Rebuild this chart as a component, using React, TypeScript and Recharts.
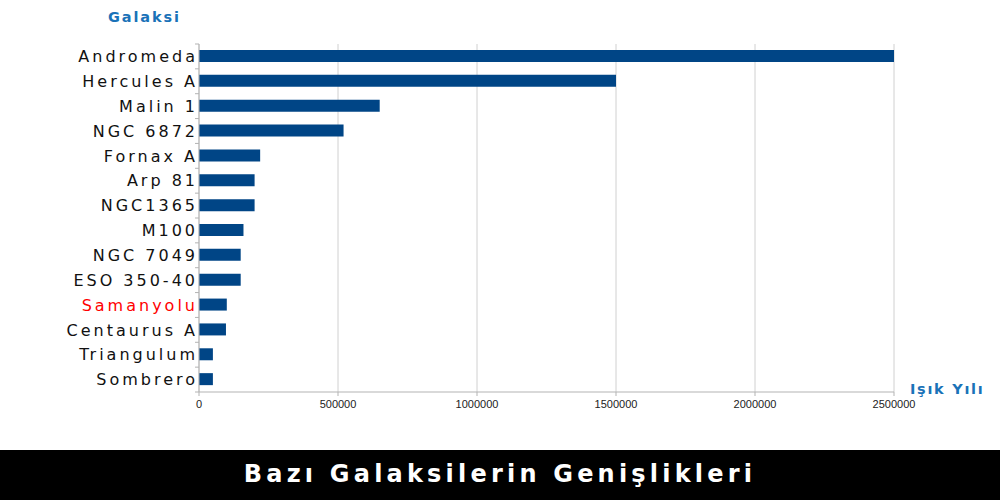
import { BarChart, Bar, XAxis, YAxis, CartesianGrid } from "recharts";

const galaxies = [
  "Andromeda",
  "Hercules A",
  "Malin 1",
  "NGC 6872",
  "Fornax A",
  "Arp 81",
  "NGC1365",
  "M100",
  "NGC 7049",
  "ESO 350-40",
  "Samanyolu",
  "Centaurus A",
  "Triangulum",
  "Sombrero",
];

const widths = [
  2500000, 1500000, 650000, 520000, 220000, 200000, 200000, 160000, 150000,
  150000, 100000, 97000, 50000, 50000,
];

const xTicks = [0, 500000, 1000000, 1500000, 2000000, 2500000];

const highlight = "Samanyolu";

const data = galaxies.map((name, i) => ({ name, value: widths[i] }));

const PLOT_TOP = 44;
const PLOT_BOTTOM = 392;
const STEP = (PLOT_BOTTOM - PLOT_TOP) / galaxies.length;

// category labels, with Excel-like tick marks between the bands
function GalaxyTick(props: any) {
  const { x, y, payload, index } = props;
  const name = payload.value;
  return (
    <g>
      {index === 0 && (
        <line x1={x} x2={x + 4} y1={y - STEP / 2} y2={y - STEP / 2} stroke="#b3b3b3" />
      )}
      <line x1={x} x2={x + 4} y1={y + STEP / 2} y2={y + STEP / 2} stroke="#b3b3b3" />
      <text
        x={x + 3}
        y={y}
        dy="0.36em"
        textAnchor="end"
        fontFamily="DejaVu Sans, Verdana, sans-serif"
        fontSize={16}
        letterSpacing={3}
        fill={name === highlight ? "#ff0000" : "#111111"}
      >
        {name}
      </text>
    </g>
  );
}

export default function App() {
  return (
    <div
      style={{
        position: "absolute",
        left: 0,
        top: 0,
        width: 1000,
        height: 500,
        background: "#ffffff",
        fontFamily: "DejaVu Sans, sans-serif",
      }}
    >
      <BarChart
        width={1000}
        height={500}
        data={data}
        layout="vertical"
        margin={{ top: PLOT_TOP, right: 106, bottom: 500 - PLOT_BOTTOM - 24, left: 0 }}
        barCategoryGap="50%"
      >
        <CartesianGrid horizontal={false} stroke="#d0d0d0" />
        <XAxis
          type="number"
          domain={[0, 2500000]}
          ticks={xTicks}
          height={24}
          stroke="#b3b3b3"
          tickSize={4}
          tickMargin={4}
          tick={{ fill: "#222222", fontSize: 11, fontFamily: "Liberation Sans Narrow, Arial Narrow, sans-serif" }}
        />
        <YAxis
          type="category"
          dataKey="name"
          width={199}
          stroke="#b3b3b3"
          tickLine={false}
          tickSize={0}
          tickMargin={4}
          interval={0}
          tick={<GalaxyTick />}
        />
        <Bar dataKey="value" fill="#004586" barSize={12} isAnimationActive={false} />
      </BarChart>

      <div
        style={{
          position: "absolute",
          left: 108,
          top: 9,
          color: "#1a72b8",
          fontWeight: "bold",
          fontSize: 14.5,
          letterSpacing: 1.9,
        }}
      >
        Galaksi
      </div>
      <div
        style={{
          position: "absolute",
          left: 910,
          top: 381,
          color: "#1a72b8",
          fontWeight: "bold",
          fontSize: 14.5,
          letterSpacing: 1.7,
        }}
      >
        Işık Yılı
      </div>

      <div
        style={{
          position: "absolute",
          left: 0,
          top: 450,
          width: 1000,
          height: 50,
          background: "#000000",
          color: "#ffffff",
          fontWeight: "bold",
          fontSize: 24,
          letterSpacing: 4.2,
          lineHeight: "48px",
          textAlign: "center",
        }}
      >
        Bazı Galaksilerin Genişlikleri
      </div>
    </div>
  );
}
